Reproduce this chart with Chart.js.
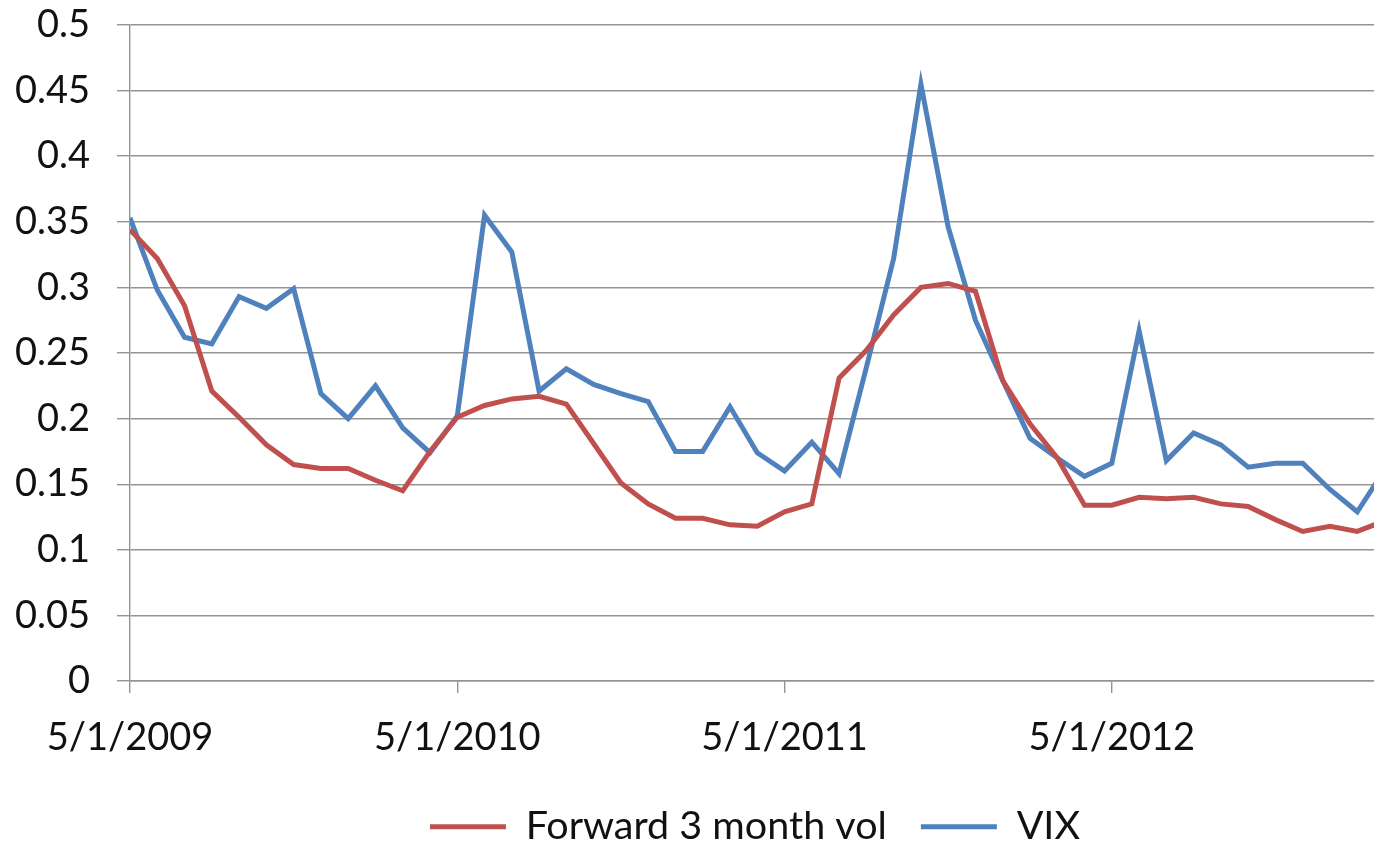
<!DOCTYPE html>
<html>
<head>
<meta charset="utf-8">
<script src="https://cdn.jsdelivr.net/npm/chart.js@4/dist/chart.umd.min.js"></script>
<style>
  html, body { margin: 0; background: #fff; overflow: hidden; width: 1374px; height: 842px; }
  canvas { display: block; }
</style>
</head>
<body>
<!-- the picture is a crop of a wider chart, so the canvas runs past the right edge -->
<canvas id="volChart" width="1510" height="842"></canvas>
<script>
// month index 0 = 5/1/2009, one value per month
const fwdVol = [0.344, 0.322, 0.286, 0.221, 0.201, 0.180, 0.165, 0.162, 0.162, 0.153, 0.145, 0.175,
  0.201, 0.210, 0.215, 0.217, 0.211, 0.181, 0.151, 0.135, 0.124, 0.124, 0.119, 0.118,
  0.129, 0.135, 0.231, 0.252, 0.279, 0.300, 0.303, 0.297, 0.229, 0.196, 0.170, 0.134,
  0.134, 0.140, 0.139, 0.140, 0.135, 0.133, 0.123, 0.114, 0.118, 0.114, 0.122];
const vix = [0.353, 0.298, 0.262, 0.257, 0.293, 0.284, 0.299, 0.219, 0.200, 0.225, 0.193, 0.174,
  0.202, 0.355, 0.327, 0.221, 0.238, 0.226, 0.219, 0.213, 0.175, 0.175, 0.209, 0.174,
  0.160, 0.182, 0.158, 0.239, 0.322, 0.455, 0.346, 0.275, 0.229, 0.185, 0.170, 0.156,
  0.166, 0.267, 0.168, 0.189, 0.180, 0.163, 0.166, 0.166, 0.146, 0.129, 0.161];
const tickMonths = [0, 12, 24, 36];
const tickLabels = ['5/1/2009', '5/1/2010', '5/1/2011', '5/1/2012'];
const seriesNames = ['Forward 3 month vol', 'VIX'];

const gridGray = '#949494';
const tickFont = { family: 'Lato', size: 38 };
const legendFont = { family: 'Lato', size: 39.5 };

let toPoints = (arr) => arr.map((v, i) => ({ x: i, y: v }));

const ctx = document.getElementById('volChart').getContext('2d');
new Chart(ctx, {
  type: 'line',
  data: {
    datasets: [{
      label: seriesNames[0],
      data: toPoints(fwdVol),
      borderColor: '#C0504D',
      backgroundColor: '#C0504D',
      borderWidth: 5,
      pointRadius: 0,
      tension: 0
    }, {
      label: seriesNames[1],
      data: toPoints(vix),
      borderColor: '#4F81BD',
      backgroundColor: '#4F81BD',
      borderWidth: 5,
      pointRadius: 0,
      tension: 0
    }]
  },
  options: {
    responsive: false,
    animation: false,
    layout: { autoPadding: false, padding: { top: 25, right: 0, left: 0, bottom: 0 } },
    scales: {
      x: {
        type: 'linear',
        min: 0,
        max: 50.6,
        afterBuildTicks: (s) => { s.ticks = tickMonths.map(v => ({ value: v })); },
        afterFit: (s) => { s.height = 92; s.paddingLeft = 0; s.paddingRight = 0; },
        ticks: {
          autoSkip: false,
          maxRotation: 0,
          padding: 22,
          color: '#111',
          font: tickFont,
          callback: (v) => tickLabels[tickMonths.indexOf(v)]
        },
        grid: { drawOnChartArea: false, tickLength: 12, color: gridGray, lineWidth: 1.4 },
        border: { color: gridGray, width: 1.4 }
      },
      y: {
        min: 0,
        max: 0.5,
        afterFit: (s) => { s.width = 130; s.paddingTop = 0; s.paddingBottom = 0; },
        ticks: {
          stepSize: 0.05,
          padding: 27,
          color: '#111',
          font: tickFont,
          callback: (v) => String(+v.toFixed(2))
        },
        grid: { tickLength: 13, color: gridGray, lineWidth: 1.4 },
        border: { color: gridGray, width: 1.4 }
      }
    },
    plugins: {
      legend: {
        position: 'bottom',
        maxHeight: 69,
        labels: {
          usePointStyle: true,
          pointStyle: 'line',
          pointStyleWidth: 76,
          padding: 34,
          color: '#111',
          font: legendFont
        }
      },
      tooltip: { enabled: false }
    }
  }
});
</script>
</body>
</html>
